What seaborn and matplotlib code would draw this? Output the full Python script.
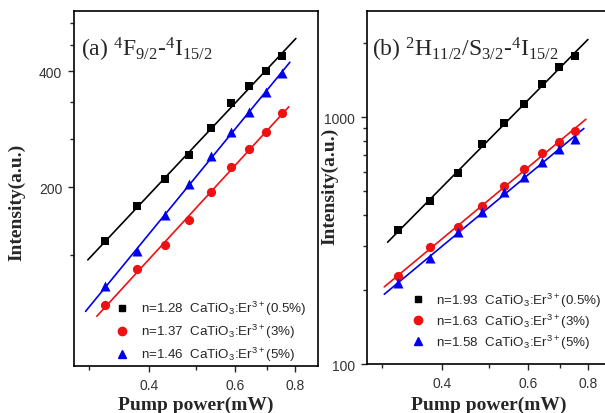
import numpy as np
import matplotlib.pyplot as plt
import matplotlib.ticker as mticker
from matplotlib.lines import Line2D
import seaborn as sns

# ------------------------------------------------------------
# data
# ------------------------------------------------------------
power = [0.325, 0.378, 0.431, 0.484, 0.537, 0.590, 0.643, 0.696, 0.749]

# (a) 4F9/2 - 4I15/2
a_05 = [145, 179, 210, 243, 285, 331, 366, 400, 437]
a_3 = [99, 123, 142, 165, 194, 226, 251, 278, 311]
a_5 = [111, 137, 170, 204, 241, 278, 313, 353, 395]
a_n = ["1.28", "1.37", "1.46"]

# (b) 2H11/2/4S3/2 - 4I15/2
b_05 = [349, 457, 593, 778, 946, 1129, 1360, 1594, 1766]
b_3 = [227, 298, 359, 436, 526, 616, 715, 792, 878]
b_5 = [213, 269, 342, 412, 497, 572, 657, 742, 815]
b_n = ["1.93", "1.63", "1.58"]

samples = ["0.5%", "3%", "5%"]

sns.set_style("ticks")
plt.rcParams['font.family'] = ['Liberation Sans', 'DejaVu Sans']

colors = ['black', '#ee1111', '#0000ee']
markers = ['s', 'o', '^']
sizes = [36, 44, 52]
# how far each fitted line runs past the first / last point
ext_a = [(0.92, 1.07), (0.96, 1.035), (0.91, 1.04)]
ext_b = [(0.95, 1.065), (0.935, 1.055), (0.935, 1.045)]

fig = plt.figure(figsize=(6.05, 4.14), dpi=100)
ax1 = fig.add_axes([0.1223, 0.1135, 0.4033, 0.8575])
ax2 = fig.add_axes([0.6066, 0.118, 0.4033, 0.853])


def draw(ax, series, ns, ext, title, leg_anchor, spacing):
    x = np.array(power)
    handles = []
    for y, n, c, m, s, e, smp in zip(series, ns, colors, markers, sizes, ext, samples):
        y = np.array(y)
        k, b = np.polyfit(np.log(x), np.log(y), 1)
        xf = np.array([x.min() * e[0], x.max() * e[1]])
        yf = np.exp(b) * xf ** k
        sns.lineplot(x=xf, y=yf, ax=ax, color=c, lw=1.2)
        sns.scatterplot(x=x, y=y, ax=ax, color=c, marker=m, s=s,
                        edgecolor=c, linewidth=0, zorder=3)
        handles.append(Line2D([], [], ls='', marker=m, color=c, ms=6 if m != 's' else 5,
                              label=f"n={n}  CaTiO$\\mathregular{{_3}}$:Er$\\mathregular{{^{{3+}}}}$({smp})"))
    ax.set_xscale('log')
    ax.set_yscale('log')
    ax.set_xlim(0.28, 0.89)
    ax.xaxis.set_major_locator(mticker.FixedLocator([0.4, 0.6, 0.8]))
    ax.xaxis.set_minor_locator(mticker.FixedLocator([0.3, 0.5, 0.7]))
    ax.xaxis.set_major_formatter(mticker.FormatStrFormatter('%.1f'))
    ax.xaxis.set_minor_formatter(mticker.NullFormatter())
    ax.text(*title[1], title[0], transform=ax.transAxes, ha='left', va='center',
            fontsize=17, family='Liberation Serif')
    ax.legend(handles=handles, loc='lower left', bbox_to_anchor=leg_anchor,
              frameon=False, fontsize=9.6, handlelength=1.0, handletextpad=0.9,
              borderpad=0, borderaxespad=0, labelspacing=spacing)
    ax.set_xlabel('Pump power(mW)', fontsize=14, fontweight='bold', family='Liberation Serif')
    ax.set_ylabel('Intensity(a.u.)', fontsize=14, fontweight='bold', family='Liberation Serif')
    ax.tick_params(which='major', direction='out', length=4.5, width=1, labelsize=10,
                   labelcolor='#333333', pad=4)
    ax.tick_params(which='minor', direction='out', length=3, width=1)
    for sp in ax.spines.values():
        sp.set_linewidth(1.2)
        sp.set_color('black')


draw(ax1, [a_05, a_3, a_5], a_n, ext_a,
     ("(a) $\\mathregular{^4F_{9/2}}$-$\\mathregular{^4I_{15/2}}$", (0.03, 0.893)),
     (0.17, 0.008), 0.36)
ax1.set_ylim(69, 572)
ax1.yaxis.set_major_locator(mticker.FixedLocator([200, 400]))
ax1.yaxis.set_minor_locator(mticker.FixedLocator([400 / 3, 800 / 3, 1000 / 3, 1400 / 3, 1600 / 3]))
ax1.yaxis.set_major_formatter(mticker.FormatStrFormatter('%d'))
ax1.yaxis.set_minor_formatter(mticker.NullFormatter())
ax1.yaxis.set_label_coords(-0.2, 0.465)
ax1.xaxis.set_label_coords(0.5, -0.085)

draw(ax2, [b_05, b_3, b_5], b_n, ext_b,
     ("(b) $\\mathregular{^2H_{11/2}}$/$\\mathregular{S_{3/2}}$-$\\mathregular{^4I_{15/2}}$",
      (0.022, 0.892)),
     (0.18, 0.038), 0.2)
ax2.set_ylim(100, 2687)
ax2.yaxis.set_major_locator(mticker.FixedLocator([100, 1000]))
ax2.yaxis.set_minor_locator(mticker.LogLocator(base=10, subs=np.arange(2, 10)))
ax2.yaxis.set_major_formatter(mticker.FormatStrFormatter('%d'))
ax2.yaxis.set_minor_formatter(mticker.NullFormatter())
ax2.yaxis.set_label_coords(-0.119, 0.507)
ax2.xaxis.set_label_coords(0.5, -0.09)

fig.savefig('out.png', dpi=100)
